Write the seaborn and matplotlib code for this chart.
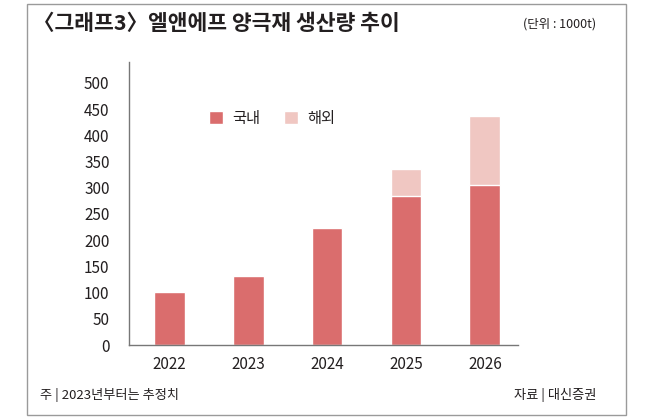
import matplotlib
matplotlib.use('Agg')
import matplotlib.pyplot as plt
import numpy as np
import pandas as pd
import seaborn as sns
from matplotlib import patches

years = ['2022', '2023', '2024', '2025', '2026']
domestic = [101, 131, 223, 284, 305]
overseas = [0, 0, 0, 52, 132]

df = pd.DataFrame({'year': years, 'domestic': domestic, 'overseas': overseas})
df['total'] = df['domestic'] + df['overseas']

sns.set_style('white')
plt.rcParams['font.family'] = ['Noto Sans CJK KR', 'DejaVu Sans']

dark = '#DA6D6D'
light = '#F0C7C2'
txt = '#231F20'

fig = plt.figure(figsize=(6.5, 4.19), dpi=100)
ax = fig.add_axes([129 / 650, 74 / 419, 389 / 650, 283 / 419])

sns.barplot(x='year', y='total', data=df, color=light, width=0.39,
            saturation=1, ax=ax, label='해외')
sns.barplot(x='year', y='domestic', data=df, color=dark, width=0.39,
            saturation=1, ax=ax, label='국내')

ax.set_xlim(-0.51, 4.42)
ax.set_ylim(0, 540)
ax.set_yticks(range(0, 501, 50))
ax.set_xlabel('')
ax.set_ylabel('')
ax.tick_params(axis='both', length=0, labelsize=11, colors=txt)
ax.tick_params(axis='y', pad=14)
ax.tick_params(axis='x', pad=8)
for s in ['top', 'right']:
    ax.spines[s].set_visible(False)
for s in ['left', 'bottom']:
    ax.spines[s].set_color('#777777')
    ax.spines[s].set_linewidth(1.0)

h, l = ax.get_legend_handles_labels()
order = [l.index('국내'), l.index('해외')]
ax.legend([h[i] for i in order], [l[i] for i in order], ncol=2, frameon=False,
          loc='center left', bbox_to_anchor=(0.17, 0.80), fontsize=11,
          handlelength=0.9, handleheight=0.9, columnspacing=1.6,
          handletextpad=0.6, labelcolor=txt)

# outer frame
fig.patches.append(patches.Rectangle((27 / 650, 4 / 419), 599 / 650, 411 / 419,
                                     transform=fig.transFigure, fill=False,
                                     edgecolor='#9A9A9A', linewidth=1.0))

fig.text(33 / 650, 1 - 24 / 419, '〈그래프3〉엘앤에프 양극재 생산량 추이',
         fontsize=15.5, fontweight='bold', color=txt, va='center', ha='left')
fig.text(596 / 650, 1 - 24 / 419, '(단위 : 1000t)', fontsize=9,
         color=txt, va='center', ha='right')
fig.text(40 / 650, 1 - 395 / 419, '주 | 2023년부터는 추정치', fontsize=9.5,
         color=txt, va='center', ha='left')
fig.text(596 / 650, 1 - 395 / 419, '자료 | 대신증권', fontsize=9.5,
         color=txt, va='center', ha='right')

fig.savefig('out.png', dpi=100)
